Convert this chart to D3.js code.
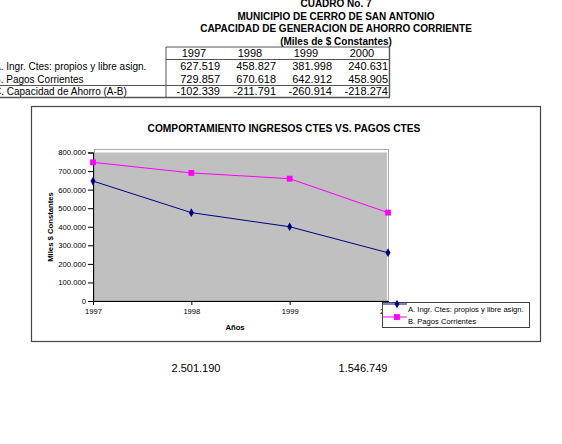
<!DOCTYPE html>
<html>
<head>
<meta charset="utf-8">
<script src="https://cdn.jsdelivr.net/npm/d3@7"></script>
<style>
  body { margin: 0; background: #fff; }
  svg { display: block; font-family: "Liberation Sans", Arial, sans-serif; }
</style>
</head>
<body>
<div id="chart"></div>
<script>
// table data (Miles de $ Constantes)
const titleLines = ["CUADRO No. 7", "MUNICIPIO DE CERRO DE SAN ANTONIO", "CAPACIDAD DE GENERACION DE AHORRO CORRIENTE", "(Miles de $ Constantes)"]
const years = ["1997", "1998", "1999", "2000"]
const rowLabels = ["A. Ingr. Ctes: propios y libre asign.", "B. Pagos Corrientes", "C. Capacidad de Ahorro (A-B)"]
const ingresos = [627519, 458827, 381998, 240631]
const pagos = [729857, 670618, 642912, 458905]
const ahorro = [-102339, -211791, -260914, -218274]

// values as plotted in the chart
const chartTitle = "COMPORTAMIENTO INGRESOS CTES VS. PAGOS CTES"
const seriesNames = ["A. Ingr. Ctes: propios y libre asign.", "B. Pagos Corrientes"]
const serieA = [646000, 476000, 400000, 260000]
const serieB = [747000, 690000, 659000, 476000]
const yTicks = [0, 100000, 200000, 300000, 400000, 500000, 600000, 700000, 800000]

const totals = [2501190, 1546749]

const locale = d3.formatLocale({ decimal: ",", thousands: ".", grouping: [3], currency: ["$", ""], minus: "-" })
const fmt = locale.format(",.0f")

const width = 562, height = 444
const svg = d3.select("#chart").append("svg")
  .attr("width", width)
  .attr("height", height)

// ---- heading
svg.append("g").selectAll("text")
  .data(titleLines)
  .join("text")
  .attr("x", 336)
  .attr("y", (d, i) => 7 + i * 12.7)
  .attr("text-anchor", "middle")
  .style("font-size", "10px")
  .style("font-weight", "bold")
  .text(d => d)

// ---- table
const table = svg.append("g")
const col = d3.scaleBand().domain(years).range([166, 390])

table.selectAll("text.year")
  .data(years)
  .join("text")
  .attr("x", d => col(d) + col.bandwidth() / 2)
  .attr("y", 56.5)
  .attr("text-anchor", "middle")
  .style("font-size", "11px")
  .text(d => d)

const rows = [ingresos, pagos, ahorro]
const rowBase = [69.5, 82.5, 95]
rows.forEach((vals, r) => {
  table.append("text")
    .attr("x", -6)
    .attr("y", rowBase[r])
    .style("font-size", "10px")
    .text(rowLabels[r])
  table.selectAll(null)
    .data(vals)
    .join("text")
    .attr("x", (d, i) => col(years[i]) + col.bandwidth() - 2)
    .attr("y", rowBase[r])
    .attr("text-anchor", "end")
    .style("font-size", "11px")
    .text(d => fmt(d))
})

const tLine = (x1, y1, x2, y2, w) => table.append("line")
  .attr("x1", x1).attr("y1", y1).attr("x2", x2).attr("y2", y2)
  .attr("stroke", "#555").attr("stroke-width", w || 1)
tLine(166, 47, 390, 47)
tLine(166, 59.5, 390, 59.5)
tLine(0, 85.5, 390, 85.5)
tLine(0, 97.5, 390, 97.5, 1.6)
tLine(166, 47, 166, 97.5)
tLine(389.5, 47, 389.5, 97.5, 1.4)

// ---- chart box
const chart = svg.append("g")
chart.append("rect")
  .attr("x", 31.5).attr("y", 106.5)
  .attr("width", 509).attr("height", 235)
  .attr("fill", "#fff")
  .attr("stroke", "#444")
  .attr("stroke-width", 1.2)

chart.append("text")
  .attr("x", 284)
  .attr("y", 131.5)
  .attr("text-anchor", "middle")
  .style("font-size", "10.2px")
  .style("font-weight", "bold")
  .text(chartTitle)

const x = d3.scalePoint().domain(years).range([93, 388])
const y = d3.scaleLinear().domain([0, 800000]).range([301, 152.5])

// plot area
chart.append("rect")
  .attr("x", 94.5).attr("y", 149.5)
  .attr("width", 294).attr("height", 151)
  .attr("fill", "none")
  .attr("stroke", "#a8a8a8")
chart.append("rect")
  .attr("x", 95).attr("y", 152.5)
  .attr("width", 292).attr("height", 147.5)
  .attr("fill", "#c0c0c0")

const yAxis = chart.append("g")
  .attr("transform", "translate(93,0)")
  .call(d3.axisLeft(y).tickValues(yTicks).tickSize(5).tickFormat(d => d === 0 ? "0" : fmt(d)))
yAxis.select(".domain").attr("stroke", "#000")
yAxis.selectAll(".tick line").attr("stroke", "#000").attr("x1", 1)
yAxis.selectAll(".tick text")
  .attr("x", -7)
  .style("font-size", "7.7px")
  .style("font-family", "Liberation Sans, Arial, sans-serif")

const xAxis = chart.append("g")
  .attr("transform", "translate(0,301)")
  .call(d3.axisBottom(x).tickSize(4).tickSizeOuter(0))
xAxis.select(".domain").attr("stroke", "#000")
xAxis.selectAll(".tick line").attr("stroke", "#000")
xAxis.selectAll(".tick text")
  .attr("y", 8)
  .style("font-size", "7.6px")
  .style("font-family", "Liberation Sans, Arial, sans-serif")

chart.append("text")
  .attr("transform", "translate(52.5,227) rotate(-90)")
  .attr("text-anchor", "middle")
  .style("font-size", "7.7px")
  .style("font-weight", "bold")
  .text("Miles $ Constantes")

chart.append("text")
  .attr("x", 235)
  .attr("y", 330)
  .attr("text-anchor", "middle")
  .style("font-size", "7.7px")
  .style("font-weight", "bold")
  .text("Años")

const line = d3.line().x((d, i) => x(years[i])).y(d => y(d))
const series = [
  { name: seriesNames[0], values: serieA, color: "#000080", symbol: d3.symbolDiamond, size: 22 },
  { name: seriesNames[1], values: serieB, color: "#ff00ff", symbol: d3.symbolSquare, size: 34 }
]

series.forEach(s => {
  chart.append("path")
    .attr("d", line(s.values))
    .attr("fill", "none")
    .attr("stroke", s.color)
    .attr("stroke-width", 1)
  chart.selectAll(null)
    .data(s.values)
    .join("path")
    .attr("transform", (d, i) => `translate(${x(years[i])},${y(d)})`)
    .attr("d", d3.symbol(s.symbol, s.size))
    .attr("fill", s.color)
})

// legend
const legend = chart.append("g")
legend.append("rect")
  .attr("x", 382.5).attr("y", 302.5)
  .attr("width", 147).attr("height", 25)
  .attr("fill", "#fff")
  .attr("stroke", "#444")
series.forEach((s, i) => {
  const ly = 304 + i * 13
  legend.append("line")
    .attr("x1", 383).attr("x2", 407)
    .attr("y1", ly).attr("y2", ly)
    .attr("stroke", s.color)
  legend.append("path")
    .attr("transform", `translate(397,${ly})`)
    .attr("d", d3.symbol(s.symbol, s.size))
    .attr("fill", s.color)
  legend.append("text")
    .attr("x", 408)
    .attr("y", 311.8 + i * 12)
    .style("font-size", "7.6px")
    .text(s.name)
})

// totals below the chart
svg.append("g").selectAll("text")
  .data(totals)
  .join("text")
  .attr("x", (d, i) => [196, 363][i])
  .attr("y", 372)
  .attr("text-anchor", "middle")
  .style("font-size", "11px")
  .text(d => fmt(d))
</script>
</body>
</html>
